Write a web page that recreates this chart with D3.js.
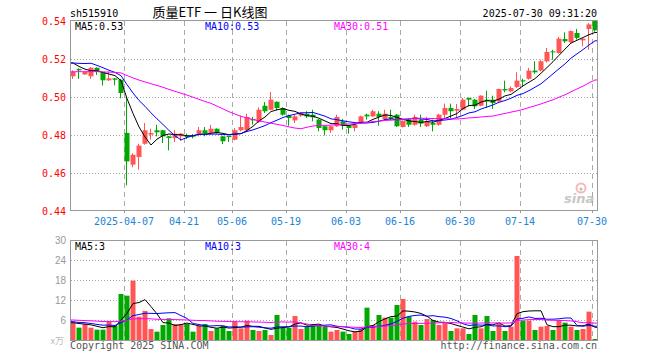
<!DOCTYPE html>
<html><head><meta charset="utf-8">
<script src="https://cdn.jsdelivr.net/npm/d3@7"></script>
<style>body{margin:0;background:#fff}svg{display:block}</style>
</head><body>
<svg id="c" width="660" height="360"></svg>
<script>
// ---------- data ----------
const dates = ["2025-03-24","2025-03-25","2025-03-26","2025-03-27","2025-03-28","2025-03-31","2025-04-01","2025-04-02","2025-04-03","2025-04-07","2025-04-08","2025-04-09","2025-04-10","2025-04-11","2025-04-14","2025-04-15","2025-04-16","2025-04-17","2025-04-18","2025-04-21","2025-04-22","2025-04-23","2025-04-24","2025-04-25","2025-04-28","2025-04-29","2025-04-30","2025-05-06","2025-05-07","2025-05-08","2025-05-09","2025-05-12","2025-05-13","2025-05-14","2025-05-15","2025-05-16","2025-05-19","2025-05-20","2025-05-21","2025-05-22","2025-05-23","2025-05-26","2025-05-27","2025-05-28","2025-05-29","2025-05-30","2025-06-03","2025-06-04","2025-06-05","2025-06-06","2025-06-09","2025-06-10","2025-06-11","2025-06-12","2025-06-13","2025-06-16","2025-06-17","2025-06-18","2025-06-19","2025-06-20","2025-06-23","2025-06-24","2025-06-25","2025-06-26","2025-06-27","2025-06-30","2025-07-01","2025-07-02","2025-07-03","2025-07-04","2025-07-07","2025-07-08","2025-07-09","2025-07-10","2025-07-11","2025-07-14","2025-07-15","2025-07-16","2025-07-17","2025-07-18","2025-07-21","2025-07-22","2025-07-23","2025-07-24","2025-07-25","2025-07-28","2025-07-29","2025-07-30"];
const open = [0.5109,0.5147,0.5119,0.5109,0.5154,0.5132,0.5088,0.5098,0.5091,0.4811,0.4644,0.4684,0.4754,0.4802,0.4825,0.4825,0.4793,0.4784,0.4793,0.4796,0.4798,0.4807,0.4825,0.4811,0.4833,0.4793,0.4796,0.4775,0.4825,0.4825,0.4884,0.4868,0.4954,0.4933,0.4975,0.4942,0.4902,0.4877,0.4902,0.4912,0.4907,0.4881,0.4846,0.4825,0.4846,0.4872,0.4849,0.4837,0.4863,0.4907,0.4898,0.4912,0.4884,0.4895,0.4907,0.4842,0.4881,0.4854,0.4881,0.4846,0.4863,0.4854,0.4907,0.4942,0.4928,0.4933,0.4995,0.4986,0.4954,0.4986,0.4986,0.4977,0.5042,0.5030,0.5053,0.5088,0.5096,0.5139,0.5139,0.5188,0.5240,0.5232,0.5305,0.5289,0.5337,0.5298,0.5358,0.5400];
const high = [0.5140,0.5151,0.5135,0.5158,0.5156,0.5133,0.5135,0.5100,0.5095,0.5000,0.4704,0.4754,0.4863,0.4833,0.4854,0.4826,0.4795,0.4825,0.4810,0.4807,0.4805,0.4842,0.4842,0.4854,0.4835,0.4795,0.4797,0.4837,0.4902,0.4912,0.4895,0.4946,0.4974,0.5026,0.4977,0.4946,0.4907,0.4907,0.4919,0.4925,0.4933,0.4884,0.4848,0.4849,0.4907,0.4884,0.4851,0.4863,0.4902,0.4912,0.4933,0.4925,0.4933,0.4933,0.4910,0.4877,0.4884,0.4907,0.4907,0.4895,0.4881,0.4912,0.4965,0.4965,0.4963,0.4995,0.4997,0.4990,0.5009,0.5033,0.5007,0.5044,0.5086,0.5056,0.5130,0.5096,0.5153,0.5188,0.5196,0.5258,0.5249,0.5316,0.5340,0.5351,0.5358,0.5311,0.5389,0.5400];
const low = [0.5095,0.5095,0.5116,0.5095,0.5116,0.5061,0.5084,0.5061,0.4993,0.4535,0.4630,0.4618,0.4749,0.4775,0.4793,0.4758,0.4719,0.4763,0.4768,0.4779,0.4782,0.4793,0.4793,0.4802,0.4807,0.4753,0.4763,0.4772,0.4819,0.4816,0.4854,0.4863,0.4916,0.4930,0.4930,0.4902,0.4849,0.4863,0.4895,0.4889,0.4872,0.4819,0.4798,0.4811,0.4842,0.4828,0.4807,0.4819,0.4860,0.4881,0.4895,0.4849,0.4877,0.4877,0.4842,0.4840,0.4842,0.4849,0.4842,0.4842,0.4819,0.4849,0.4889,0.4889,0.4895,0.4930,0.4951,0.4937,0.4951,0.4942,0.4937,0.4975,0.5025,0.5025,0.5047,0.5053,0.5091,0.5123,0.5135,0.5182,0.5196,0.5228,0.5284,0.5284,0.5302,0.5267,0.5249,0.5344];
const close = [0.5132,0.5140,0.5132,0.5154,0.5132,0.5088,0.5098,0.5091,0.5021,0.4661,0.4696,0.4744,0.4825,0.4811,0.4814,0.4793,0.4784,0.4807,0.4807,0.4789,0.4791,0.4825,0.4807,0.4833,0.4811,0.4767,0.4789,0.4825,0.4842,0.4895,0.4877,0.4933,0.4925,0.4986,0.4942,0.4907,0.4889,0.4898,0.4916,0.4898,0.4893,0.4837,0.4825,0.4846,0.4895,0.4849,0.4837,0.4854,0.4898,0.4898,0.4925,0.4895,0.4912,0.4884,0.4846,0.4875,0.4854,0.4895,0.4860,0.4872,0.4854,0.4907,0.4942,0.4925,0.4937,0.4986,0.4986,0.4951,0.5007,0.4977,0.4968,0.5042,0.5035,0.5047,0.5086,0.5082,0.5139,0.5130,0.5188,0.5237,0.5235,0.5307,0.5293,0.5347,0.5311,0.5307,0.5382,0.5351];
const volume = [5.2,3.7,4.8,3.7,3.1,3.1,5.5,4.3,13.8,13.3,17.8,7.0,8.7,3.3,2.5,4.5,6.5,4.8,4.8,4.8,2.5,4.2,4.8,2.7,3.5,4.2,2.7,5.5,3.5,5.8,3.0,2.7,3.0,1.5,7.5,4.0,3.7,7.2,3.3,4.0,4.8,4.5,4.0,2.5,3.0,2.5,1.8,2.5,3.3,9.7,4.5,7.5,6.7,6.7,10.5,12.3,7.0,5.5,4.5,6.3,6.0,4.5,5.2,2.7,3.5,3.5,1.8,7.5,3.5,7.2,2.7,4.8,2.7,4.0,25.2,5.8,5.8,3.0,4.0,4.2,3.0,5.8,5.2,4.0,3.0,3.3,8.5,0.3];
// estimated closes / volumes of the 29 sessions before the first visible one (MA warm-up)
const priorClose = [0.512,0.514,0.513,0.515,0.513,0.512,0.514,0.510,0.508,0.507,0.509,0.511,0.510,0.508,0.509,0.511,0.512,0.510,0.509,0.512,0.516,0.514,0.514,0.5245,0.521,0.523,0.5205,0.5195,0.5133];
const priorVolume = [6.5,7.2,5.8,6.0,6.8,5.5,6.2,7.0,6.1,5.9,6.4,6.6,5.7,6.3,6.0,6.9,5.8,6.2,6.4,5.7,6.2,5.5,5.9,6.0,5.4,5.0,5.6,4.9,5.3];
const priceTicks = [0.44,0.46,0.48,0.50,0.52,0.54];
const volumeTicks = [6,12,18,24,30];
const dateTicks = ["2025-04-07","2025-04-21","2025-05-06","2025-05-19","2025-06-03","2025-06-16","2025-06-30","2025-07-14","2025-07-30"];
const dateTickLabels = ["2025-04-07","04-21","05-06","05-19","06-03","06-16","06-30","07-14","07-30"];
const maPeriods = [5,10,30];
const priceMaLabels = ["0.53","0.53","0.51"];
const volumeMaLabels = ["3","3","4"];

// ---------- chart ----------
const svg = d3.select("#c");
const MONO = "'DejaVu Sans Mono', monospace";
const RED = "#ff5555", GREEN = "#00a800";
const maColors = ["#000000","#0000ff","#ff00ff"];
svg.append("rect").attr("width",660).attr("height",360).attr("fill","#fff");

const x = d3.scaleBand().domain(dates).range([70,598]).padding(0);
const y = d3.scaleLinear().domain([0.44,0.54]).range([211,21]);
const yv = d3.scaleLinear().domain([0,30]).range([340,240]);
const cx = d => x(d) + 3;
const up = i => close[i] >= open[i];

function movingAvg(full, n, offset){
  return dates.map((d,i)=>{
    const end = i + offset;
    return d3.mean(full.slice(end-n+1, end+1));
  });
}
const fullClose = priorClose.concat(close);
const fullVol = priorVolume.concat(volume);
const priceMA = maPeriods.map(n => movingAvg(fullClose, n, priorClose.length));
const volMA = maPeriods.map(n => movingAvg(fullVol, n, priorVolume.length));

// grids
const grid = svg.append("g");
priceTicks.filter(t=>t>0.441 && t<0.539).forEach(t=>{
  const yy = Math.round(y(t))+0.5;
  grid.append("line").attr("x1",71).attr("x2",597).attr("y1",yy).attr("y2",yy)
    .attr("stroke","#aaa").attr("stroke-dasharray","1,2");
});
volumeTicks.filter(t=>t<30).forEach(t=>{
  const yy = Math.round(yv(t))+0.5;
  grid.append("line").attr("x1",71).attr("x2",597).attr("y1",yy).attr("y2",yy)
    .attr("stroke","#aaa").attr("stroke-dasharray","1,2");
});
dateTicks.forEach(d=>{
  const xx = x(d)+0.5;
  grid.append("line").attr("x1",xx).attr("x2",xx).attr("y1",21).attr("y2",210)
    .attr("stroke","#aaa").attr("stroke-dasharray","5,4");
  grid.append("line").attr("x1",xx).attr("x2",xx).attr("y1",241).attr("y2",340)
    .attr("stroke","#aaa").attr("stroke-dasharray","5,4");
  grid.append("line").attr("x1",xx).attr("x2",xx).attr("y1",210).attr("y2",213)
    .attr("stroke","#999");
});

// candles
const cg = svg.append("g");
dates.forEach((d,i)=>{
  const col = up(i) ? RED : GREEN;
  cg.append("line").attr("x1",cx(d)-0.5).attr("x2",cx(d)-0.5)
    .attr("y1",y(high[i])).attr("y2",y(low[i])).attr("stroke",col);
  const top = y(Math.max(open[i],close[i])), bot = y(Math.min(open[i],close[i]));
  cg.append("rect").attr("x",x(d)+0.5).attr("width",5)
    .attr("y",top).attr("height",Math.max(1,bot-top)).attr("fill",col);
});
// volume bars
const vg = svg.append("g");
dates.forEach((d,i)=>{
  vg.append("rect").attr("x",x(d)+0.5).attr("width",5)
    .attr("y",yv(volume[i])).attr("height",340-yv(volume[i]))
    .attr("fill", up(i)?RED:GREEN);
});

// MA lines (extended to the panel edges)
function maLine(vals, scale){
  const pts = [[70.5, scale(vals[0])]].concat(dates.map((d,i)=>[cx(d), scale(vals[i])]))
    .concat([[597.5, scale(vals[vals.length-1])]]);
  return d3.line()(pts);
}
priceMA.forEach((m,k)=>{
  svg.append("path").attr("d",maLine(m,y)).attr("fill","none").attr("stroke",maColors[k]).attr("stroke-width",1);
});
volMA.forEach((m,k)=>{
  svg.append("path").attr("d",maLine(m,yv)).attr("fill","none").attr("stroke",maColors[k]).attr("stroke-width",1);
});

// borders
svg.append("rect").attr("x",70.5).attr("y",20.5).attr("width",527).attr("height",190)
  .attr("fill","none").attr("stroke","#999");
svg.append("rect").attr("x",70.5).attr("y",240.5).attr("width",527).attr("height",100)
  .attr("fill","none").attr("stroke","#999");

// axis labels
priceTicks.forEach(t=>{
  svg.append("text").attr("x",66).attr("y",y(t)+3.5).attr("text-anchor","end")
    .attr("font-family",MONO).attr("font-size",10).attr("fill","#ff0000").text(t.toFixed(2));
});
volumeTicks.forEach(t=>{
  svg.append("text").attr("x",66).attr("y",yv(t)+3.5).attr("text-anchor","end")
    .attr("font-family","'Liberation Sans', Arial, sans-serif").attr("font-size",10).attr("fill","#999").text(t);
});
svg.append("text").attr("x",64).attr("y",344).attr("text-anchor","end")
  .attr("font-family","'Noto Sans CJK SC', sans-serif").attr("font-size",9).attr("fill","#bbb").text("x万");
dateTicks.forEach((d,k)=>{
  svg.append("text").attr("x",x(d)).attr("y",225).attr("text-anchor","middle")
    .attr("font-family",MONO).attr("font-size",10).attr("fill","#1a84d6").text(dateTickLabels[k]);
});

// MA legends
const maX = [75,205,334];
maPeriods.forEach((n,k)=>{
  svg.append("text").attr("x",maX[k]).attr("y",29.5).attr("font-family",MONO).attr("font-size",10)
    .attr("fill",maColors[k]).text("MA"+n+":"+priceMaLabels[k]);
  svg.append("text").attr("x",maX[k]).attr("y",250).attr("font-family",MONO).attr("font-size",10)
    .attr("fill",maColors[k]).text("MA"+n+":"+volumeMaLabels[k]);
});

// header
svg.append("text").attr("x",70).attr("y",16.5).attr("font-family",MONO).attr("font-size",10).attr("fill","#000").text("sh515910");
svg.append("text").attr("x",210).attr("y",17).attr("text-anchor","middle").attr("font-family","'Noto Sans CJK SC', sans-serif")
  .attr("font-size",13).attr("fill","#000").text("质量ETF 一 日K线图");
svg.append("text").attr("x",597).attr("y",16.5).attr("text-anchor","end").attr("font-family",MONO).attr("font-size",10).attr("fill","#000").text("2025-07-30 09:31:20");

// footer
svg.append("text").attr("x",70).attr("y",349).attr("font-family",MONO).attr("font-size",10).attr("fill","#555").text("Copyright 2025 SINA.COM");
svg.append("text").attr("x",597).attr("y",349).attr("text-anchor","end").attr("font-family",MONO).attr("font-size",10).attr("fill","#555").text("http://finance.sina.com.cn");

// watermark
const wm = svg.append("g").attr("opacity",0.55);
wm.append("circle").attr("cx",581).attr("cy",188).attr("r",4.5).attr("fill","none").attr("stroke","#f08080").attr("stroke-width",2);
wm.append("circle").attr("cx",581).attr("cy",189).attr("r",1.6).attr("fill","#888");
wm.append("text").attr("x",564).attr("y",203).attr("font-family","'DejaVu Sans', sans-serif").attr("font-weight","bold")
  .attr("font-style","italic").attr("font-size",13).attr("fill","#999").text("sina");
</script>
</body></html>
